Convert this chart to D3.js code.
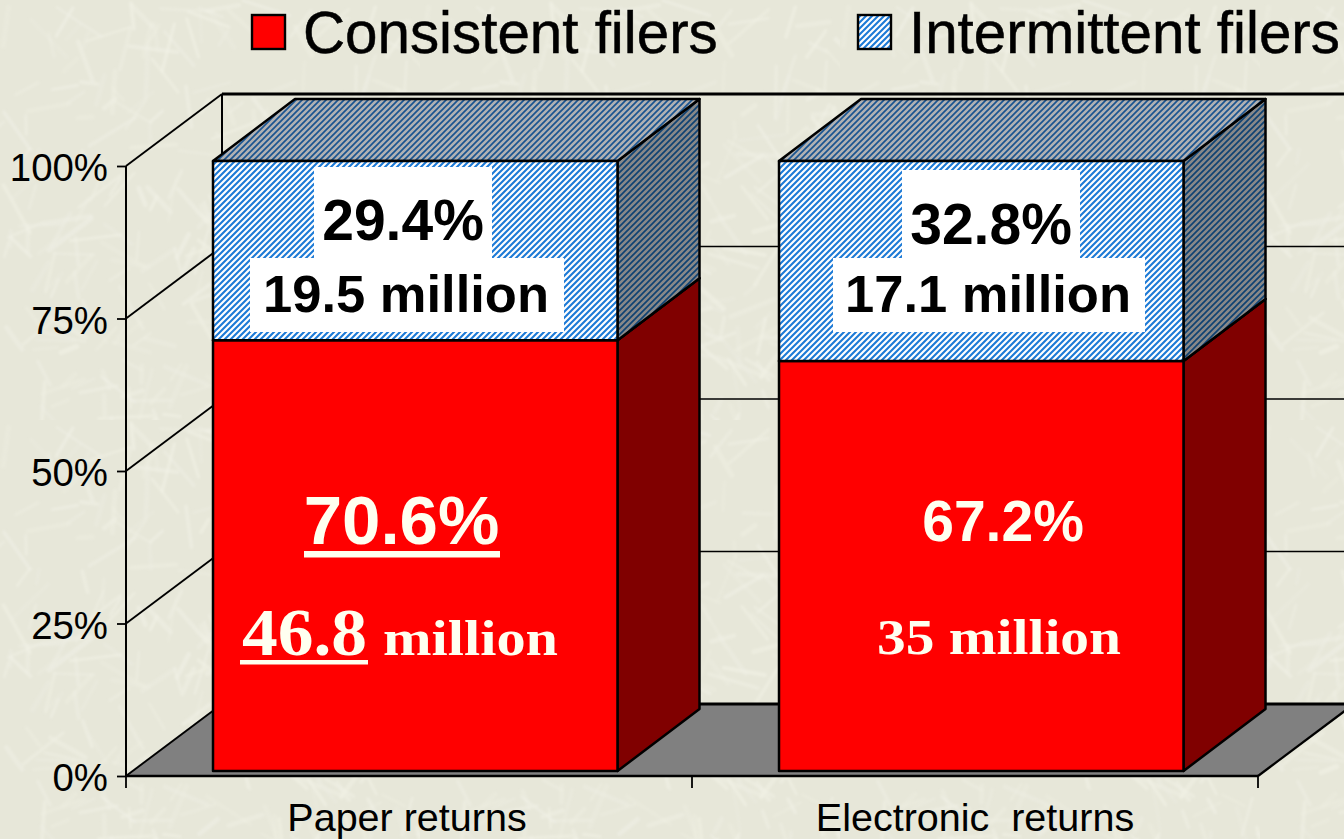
<!DOCTYPE html>
<html><head><meta charset="utf-8">
<script src="https://cdn.jsdelivr.net/npm/d3@7"></script>
<style>html,body{margin:0;padding:0;background:#e6e6d8;overflow:hidden}svg{display:block}</style>
</head><body><div id="c"></div>
<script>
const categories = ["Paper returns", "Electronic  returns"];
const seriesNames = ["Consistent filers", "Intermittent filers"];
const consistent = [70.6, 67.2];
const intermittent = [29.4, 32.8];
const pctLabelsConsistent = ["70.6%", "67.2%"];
const pctLabelsIntermittent = ["29.4%", "32.8%"];
const countLabelsIntermittent = ["19.5 million", "17.1 million"];
const countNumbersConsistent = ["46.8", "35"];
const yTicks = [0, 25, 50, 75, 100];

const W = 1344, H = 839;
const svg = d3.select("#c").append("svg").attr("width", W).attr("height", H);
const defs = svg.append("defs");

// --- decorative paper texture (deterministic) ---
const tile = defs.append("pattern").attr("id", "paper").attr("patternUnits", "userSpaceOnUse")
  .attr("width", 420).attr("height", 420);
defs.append("filter").attr("id", "soft").append("feGaussianBlur").attr("stdDeviation", 1);
tile.append("rect").attr("width", 420).attr("height", 420).attr("fill", "#e7e7d9");
let seed = 12345;
const lcg = () => (seed = (seed * 1664525 + 1013904223) % 4294967296) / 4294967296;
const tg = tile.append("g").attr("filter", "url(#soft)").attr("stroke", "#f1f1e6").attr("stroke-linecap", "round");
for (let i = 0; i < 320; i++) {
  const x = lcg() * 420, y = lcg() * 420, a = lcg() * Math.PI, l = 14 + lcg() * 40;
  tg.append("line").attr("x1", x).attr("y1", y)
    .attr("x2", x + Math.cos(a) * l).attr("y2", y + Math.sin(a) * l)
    .attr("stroke-width", 2.5 + lcg() * 2.5).attr("stroke-opacity", 0.2 + lcg() * 0.4);
}
svg.append("rect").attr("width", W).attr("height", H).attr("fill", "url(#paper)");

// --- hatch patterns ---
function hatch(id, bg, fg, sw) {
  const p = defs.append("pattern").attr("id", id).attr("patternUnits", "userSpaceOnUse")
    .attr("width", 6).attr("height", 6);
  p.append("rect").attr("width", 6).attr("height", 6).attr("fill", bg);
  p.append("path").attr("d", "M-1 7L7 -1M-1 1L1 -1M5 7L7 5")
    .attr("stroke", fg).attr("stroke-width", sw).attr("fill", "none");
}
hatch("hFront", "#ffffff", "#1c7ad6", 2.1);
hatch("hTop", "#b0b1b3", "#1a5490", 1.7);
hatch("hSide", "#888888", "#0f4272", 1.7);
hatch("hLegend", "#ffffff", "#1c7ad6", 2.1);

// --- scales ---
const x = d3.scaleBand().domain(categories).range([126, 1258]);
const yAxisScale = d3.scaleLinear().domain([0, 100]).range([776, 166]);
const yBar = d3.scaleLinear().domain([0, 100]).range([771, 161]);
const depth = { dx: 96, dy: -72 }, barDepth = { dx: 82, dy: -62 };
const barInset = 87, barW = 404.5;

const ink = "#000";
const main = svg.append("g");

// floor
main.append("path")
  .attr("d", `M126 ${yAxisScale(0)}L${126 + depth.dx} ${yAxisScale(0) + depth.dy}L${1258 + depth.dx} ${yAxisScale(0) + depth.dy}L1258 ${yAxisScale(0)}Z`)
  .attr("fill", "#808080");
// walls: gridlines, left wall diagonals
main.selectAll(".grid").data(yTicks).join("line")
  .attr("x1", 126 + depth.dx).attr("x2", 1360)
  .attr("y1", d => yAxisScale(d) + depth.dy).attr("y2", d => yAxisScale(d) + depth.dy)
  .attr("stroke", ink).attr("stroke-width", d => d === 100 || d === 0 ? 3 : 1.7);
main.selectAll(".diag").data(yTicks).join("line")
  .attr("x1", 126).attr("x2", 126 + depth.dx)
  .attr("y1", d => yAxisScale(d)).attr("y2", d => yAxisScale(d) + depth.dy)
  .attr("stroke", ink).attr("stroke-width", 1.9);
main.append("line").attr("x1", 126 + depth.dx).attr("x2", 126 + depth.dx)
  .attr("y1", yAxisScale(100) + depth.dy).attr("y2", yAxisScale(0) + depth.dy)
  .attr("stroke", ink).attr("stroke-width", 2);
main.append("line").attr("x1", 1258).attr("x2", 1258 + depth.dx)
  .attr("y1", yAxisScale(0)).attr("y2", yAxisScale(0) + depth.dy)
  .attr("stroke", ink).attr("stroke-width", 2.2);

// axes
const fontSans = "'Liberation Sans', Arial, sans-serif";
const fontSerif = "'Liberation Serif', 'Times New Roman', serif";
const yAxis = d3.axisLeft(yAxisScale).tickValues(yTicks).tickFormat(d => d + "%").tickSize(9).tickPadding(9);
const yG = main.append("g").attr("transform", "translate(126,0)").call(yAxis);
yG.select(".domain").attr("stroke", ink).attr("stroke-width", 2).attr("d", `M0 ${yAxisScale(100)}V${yAxisScale(0)}`);
yG.selectAll(".tick line").attr("stroke", ink).attr("stroke-width", 1.8);
yG.selectAll("text").attr("font-family", fontSans).attr("font-size", 38.4).attr("fill", ink).attr("dy", "0.38em");

const xTickPos = [...categories.map(c => x(c)), 1258];
main.selectAll(".xt").data(xTickPos).join("line")
  .attr("x1", d => d).attr("x2", d => d).attr("y1", 776).attr("y2", 788)
  .attr("stroke", ink).attr("stroke-width", 1.8);
main.append("line").attr("x1", 126).attr("x2", 1258).attr("y1", 776).attr("y2", 776)
  .attr("stroke", ink).attr("stroke-width", 2.6);
main.selectAll(".xl").data(categories).join("text")
  .attr("x", (d, i) => [407, 975][i]).attr("y", 830.5)
  .attr("text-anchor", "middle").attr("xml:space", "preserve").style("white-space", "pre")
  .attr("font-family", fontSans).attr("font-size", 39.5).attr("fill", ink).text(d => d);

// bars
function cuboid(g, bx, y0, y1, front, top, side) {
  const poly = pts => pts.map(p => p.join(",")).join(" ");
  const w = barW, dx = barDepth.dx, dy = barDepth.dy;
  const stroke = { stroke: ink, "stroke-width": 2.5, "stroke-linejoin": "round" };
  const a = (sel, o) => { Object.entries(o).forEach(([k, v]) => sel.attr(k, v)); return sel; };
  a(g.append("polygon").attr("points", poly([[bx + w, y0], [bx + w + dx, y0 + dy], [bx + w + dx, y1 + dy], [bx + w, y1]])).attr("fill", side), stroke);
  a(g.append("polygon").attr("points", poly([[bx, y1], [bx + dx, y1 + dy], [bx + w + dx, y1 + dy], [bx + w, y1]])).attr("fill", top), stroke);
  a(g.append("rect").attr("x", bx).attr("y", y1).attr("width", w).attr("height", y0 - y1).attr("fill", front), stroke);
}
categories.forEach((c, i) => {
  const g = main.append("g");
  const bx = x(c) + barInset;
  cuboid(g, bx, yBar(0), yBar(consistent[i]), "#ff0000", "#800000", "#800000");
  cuboid(g, bx, yBar(consistent[i]), yBar(consistent[i] + intermittent[i]), "url(#hFront)", "url(#hTop)", "url(#hSide)");
});

// white label boxes
const boxes = [
  [[314, 167, 178, 91], [250, 258, 314, 74]],
  [[902, 170, 178, 88], [833, 258, 312, 74]]
];
main.selectAll(".box").data(boxes.flat()).join("rect")
  .attr("x", d => d[0]).attr("y", d => d[1]).attr("width", d => d[2]).attr("height", d => d[3]).attr("fill", "#fff");

// labels
const labelG = main.append("g").attr("font-family", fontSans).attr("font-weight", 700);
labelG.selectAll(".p2").data(pctLabelsIntermittent).join("text")
  .attr("x", (d, i) => [403, 991][i]).attr("y", (d, i) => [240, 244][i]).attr("text-anchor", "middle")
  .attr("font-size", 57).attr("fill", "#000").text(d => d);
labelG.selectAll(".c2").data(countLabelsIntermittent).join("text")
  .attr("x", (d, i) => [406, 988][i]).attr("y", 312).attr("text-anchor", "middle")
  .attr("font-size", 52.5).attr("fill", "#000").text(d => d);
labelG.selectAll(".p1").data(pctLabelsConsistent).join("text")
  .attr("x", (d, i) => [401.5, 1003][i]).attr("y", (d, i) => [544, 541][i]).attr("text-anchor", "middle")
  .attr("font-size", (d, i) => [69, 57][i]).attr("fill", "#fffff0").text(d => d);
main.append("rect").attr("x", 304).attr("y", 551).attr("width", 196).attr("height", 6.5).attr("fill", "#fffff0");

const ser = main.append("g").attr("font-family", fontSerif).attr("font-weight", 700).attr("fill", "#fffff0");
ser.append("text").attr("x", 242).attr("y", 655).attr("font-size", 67)
  .attr("textLength", 125).attr("lengthAdjust", "spacingAndGlyphs").text(countNumbersConsistent[0]);
main.append("rect").attr("x", 240).attr("y", 660).attr("width", 128).attr("height", 4.5).attr("fill", "#fffff0");
ser.append("text").attr("x", 383).attr("y", 655).attr("font-size", 51)
  .attr("textLength", 175).attr("lengthAdjust", "spacingAndGlyphs").text("million");
ser.append("text").attr("x", 877).attr("y", 654).attr("font-size", 50)
  .attr("textLength", 244).attr("lengthAdjust", "spacingAndGlyphs").text(countNumbersConsistent[1] + " million");

// legend
const legendX = [252, 858], legendTextX = [303, 909];
const leg = svg.selectAll(".leg").data(seriesNames).join("g");
leg.append("rect").attr("x", (d, i) => legendX[i]).attr("y", 15).attr("width", 33).attr("height", 34)
  .attr("fill", (d, i) => i === 0 ? "#ff0000" : "url(#hLegend)").attr("stroke", ink).attr("stroke-width", 2.4);
leg.append("text").attr("x", (d, i) => legendTextX[i]).attr("y", 53)
  .attr("font-family", fontSans).attr("font-size", 58.3).attr("fill", ink)
  .attr("stroke", ink).attr("stroke-width", 0.5).text(d => d);
</script></body></html>
